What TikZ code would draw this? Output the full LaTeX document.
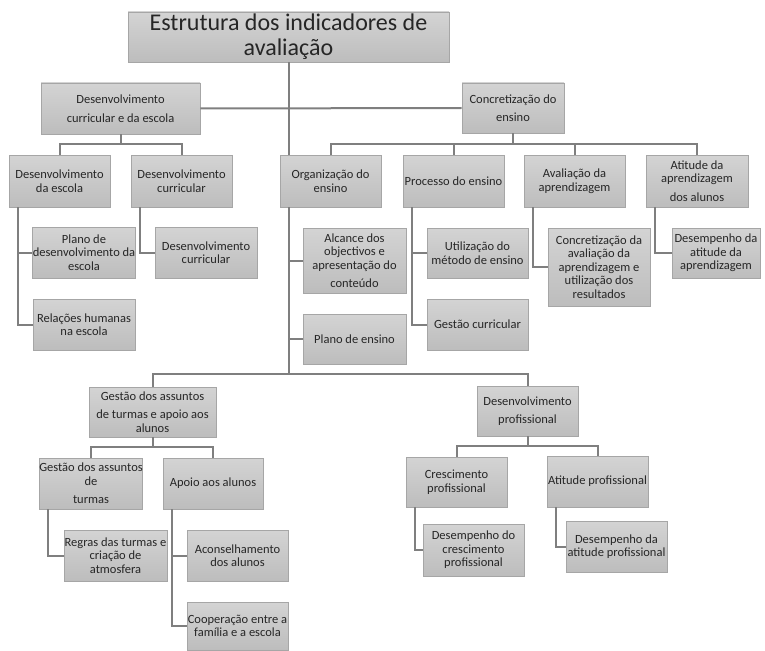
\documentclass[tikz,border=0pt]{standalone}
\usepackage{fontspec}
\setmainfont{Carlito}
\usepackage{tikz}
\usetikzlibrary{calc,positioning,arrows.meta}
\definecolor{boxline}{HTML}{A6A6A6}
\definecolor{linkgray}{HTML}{7F7F7F}
\tikzset{
ibox/.style={
  draw=boxline,
  line width=0.9pt,
  top color=gray!34,
  bottom color=gray!52,
  align=center,
  inner sep=0pt,
  minimum width=101pt,
  minimum height=51pt,
  font=\fontsize{12.5}{13.5}\selectfont,
  text=black!85
  },
iboxs/.style 2 args={
  ibox,
  minimum width=#1,
  minimum height=#2
  },
link/.style={
  draw=linkgray,
  line width=2pt
  }
}

\begin{document}
\begin{tikzpicture}[x=1pt,y=-1pt]
            \useasboundingbox (0,0) rectangle (765,650);
            \node[iboxs={321pt}{50pt},font=\fontsize{24}{25}\selectfont] (title) at (288.5,37) {Estrutura dos indicadores de\\avaliação};
            \node[iboxs={159pt}{51pt}] (dce) at (120.5,108.5) {Desenvolvimento\\[5pt]curricular e da escola};
            \node[iboxs={102pt}{50pt}] (con) at (513,108) {Concretização do\\[5pt]ensino};
            \node[iboxs={101pt}{52pt}] (dE) at (59.5,181) {Desenvolvimento\\da escola};
            \node[iboxs={101pt}{52pt}] (dC) at (181.5,181) {Desenvolvimento\\curricular};
            \node[iboxs={101pt}{52pt}] (org) at (330.5,181) {Organização do\\ensino};
            \node[iboxs={101pt}{52pt}] (pro) at (453.5,181) {Processo do ensino};
            \node[iboxs={101pt}{52pt}] (ava) at (574.5,181) {Avaliação da\\aprendizagem};
            \node[iboxs={102pt}{52pt}] (ati) at (697,181) {Atitude da\\aprendizagem\\[5pt]dos alunos};
            \node[iboxs={102pt}{51pt}] (pde) at (84,252.5) {Plano de\\desenvolvimento da\\escola};
            \node[iboxs={102pt}{51pt}] (rel) at (84,324.5) {Relações humanas\\na escola};
            \node[iboxs={102pt}{51pt}] (dcc) at (206,252.5) {Desenvolvimento\\curricular};
            \node[iboxs={103pt}{65pt}] (alc) at (354.5,260.5) {Alcance dos\\objectivos e\\apresentação do\\[5pt]conteúdo};
            \node[iboxs={103pt}{50pt}] (ple) at (354.5,339) {Plano de ensino};
            \node[iboxs={101pt}{50pt}] (uti) at (477.5,253) {Utilização do\\método de ensino};
            \node[iboxs={101pt}{51pt}] (ges) at (477.5,324.5) {Gestão curricular};
            \node[iboxs={102pt}{78pt}] (cav) at (599,267) {Concretização da\\avaliação da\\aprendizagem e\\utilização dos\\resultados};
            \node[iboxs={88pt}{50pt}] (dat) at (716,253) {Desempenho da\\atitude da\\aprendizagem};
            \node[iboxs={127pt}{50pt}] (gat) at (152.5,412) {Gestão dos assuntos\\[5pt]de turmas e apoio aos\\alunos};
            \node[iboxs={101pt}{50pt}] (dpr) at (527.5,411) {Desenvolvimento\\[4pt]profissional};
            \node[iboxs={102pt}{51pt}] (gst) at (91,483.5) {Gestão dos assuntos\\de\\[5pt]turmas};
            \node[iboxs={100pt}{51pt}] (apo) at (213,483.5) {Apoio aos alunos};
            \node[iboxs={103pt}{51pt}] (reg) at (115.5,555.5) {Regras das turmas e\\criação de\\atmosfera};
            \node[iboxs={101pt}{51pt}] (acs) at (237.5,555.5) {Aconselhamento\\dos alunos};
            \node[iboxs={101pt}{48pt}] (coo) at (237.5,626) {Cooperação entre a\\família e a escola};
            \node[iboxs={101pt}{50pt}] (cre) at (456.5,482) {Crescimento\\profissional};
            \node[iboxs={101pt}{51pt}] (atp) at (597.5,481.5) {Atitude profissional};
            \node[iboxs={101pt}{52pt}] (dcr) at (473.5,550) {Desempenho do\\crescimento\\profissional};
            \node[iboxs={101pt}{51pt}] (dap) at (616.5,546.5) {Desempenho da\\atitude profissional};
            \coordinate (bus) at ($(org.south west)+(9,167)$);
            \draw[link] (title.south) -- (title.south |- org.north);
            \draw[link] (dce.east) -- (con.west);
            \foreach \c in {dE,dC}
                \draw[link] (dce.south) -- ++(0,10) -| (\c.north);
            \foreach \c in {org,pro,ava,ati}
                \draw[link] (con.south) -- ++(0,11) -| (\c.north);
            \foreach \p/\c in {dE/pde,dE/rel,dC/dcc,org/alc,org/ple,pro/uti,pro/ges,ava/cav,ati/dat,gst/reg,apo/acs,apo/coo,cre/dcr,atp/dap}
                \draw[link] ($(\p.south west)+(9,0)$) |- (\c.west);
            \draw[link] ($(org.south west)+(9,0)$) -- (bus);
            \draw[link] (gat.north) |- (bus) -| (dpr.north);
            \foreach \c in {gst,apo}
                \draw[link] (gat.south) -- ++(0,10) -| (\c.north);
            \foreach \c in {cre,atp}
                \draw[link] (dpr.south) -- ++(0,10) -| (\c.north);
        \end{tikzpicture}
\end{document}
